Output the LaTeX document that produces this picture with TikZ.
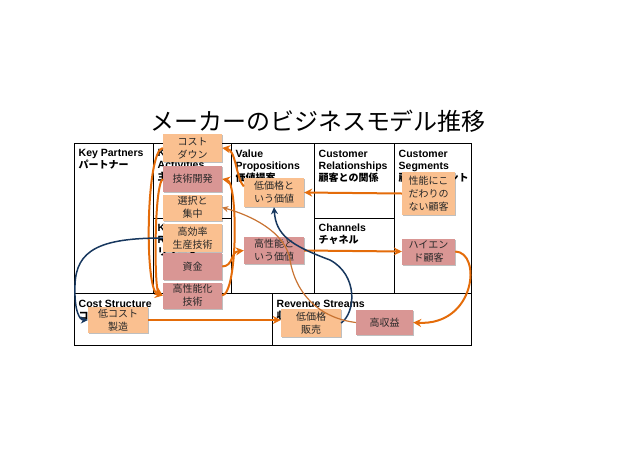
\documentclass[tikz,border=0pt]{standalone}
\usepackage{fontspec}
\setmainfont{Liberation Sans}
\newfontfamily\jp{Noto Sans CJK JP}
\usetikzlibrary{arrows.meta,shadows}
\definecolor{boxor}{RGB}{250,192,144}
\definecolor{boxpk}{RGB}{217,150,148}
\definecolor{lineor}{RGB}{228,108,10}
\definecolor{linebr}{RGB}{200,115,50}
\definecolor{linenv}{RGB}{23,55,94}
\definecolor{txt}{RGB}{40,40,40}
\newcommand{\jh}[1]{{\jp\fontsize{10}{12}\selectfont #1}}

\begin{document}
\begin{tikzpicture}[x=1pt,y=-1pt,
      grid/.style={line width=0.9pt, black},
      hd/.style={anchor=north west, align=left, inner sep=0pt,
                 font=\bfseries\fontsize{10.5}{12}\selectfont},
      box/.style={rectangle, text=txt, align=center, inner sep=1pt,
                  font=\jp\fontsize{10}{13}\selectfont,
                  minimum width=59pt, minimum height=27pt,
                  drop shadow={shadow xshift=1pt, shadow yshift=-1.2pt, fill=black, opacity=.25}},
      boxO/.style={box, fill=boxor},
      boxP/.style={box, fill=boxpk},
      arr/.style={-{Stealth[length=8pt,width=8pt]}, line width=2pt, lineor},
      arrT/.style={-{Stealth[length=6pt,width=6pt]}, line width=1.2pt, linebr},
      arrN/.style={-{Stealth[length=7pt,width=7pt]}, line width=1.5pt, linenv},
    ]
    \useasboundingbox (0,0) rectangle (638,451);
    \node[font=\jp\fontsize{24}{28}\selectfont] (title) at (318,121) {メーカーのビジネスモデル推移};

    % canvas
    \draw[grid] (74,143) rectangle (471,345);
    \draw[grid] (74,293) -- (471,293);
    \foreach \x in {153,231,314,394} \draw[grid] (\x,143) -- (\x,293);
    \draw[grid] (272,293) -- (272,345);
    \draw[grid] (153,218) -- (231,218);
    \draw[grid] (314,218) -- (394,218);

    \node[hd] (kp)  at (78.5,149.5)  {Key Partners\\\jh{パートナー}};
    \node[hd] (ka)  at (157.5,149.5) {Key\\Activities\\\jh{主要活動}};
    \node[hd] (kr)  at (157.5,224.5) {Key\\Resources\\\jh{リソース}};
    \node[hd] (vp)  at (235.5,149.5) {Value\\Propositions\\\jh{価値提案}};
    \node[hd] (cr)  at (318.5,149.5) {Customer\\Relationships\\\jh{顧客との関係}};
    \node[hd] (ch)  at (318.5,223.5) {Channels\\\jh{チャネル}};
    \node[hd] (cs)  at (398.5,149.5) {Customer\\Segments\\\jh{顧客セグメント}};
    \node[hd] (cst) at (78.5,299.5)  {Cost Structure\\\jh{コスト構造}};
    \node[hd] (rs)  at (276.5,299.5) {Revenue Streams\\\jh{収益の流れ}};

    \node[boxO, minimum height=28pt] (cd) at (192.5,148)   {コスト\\ダウン};
    \node[boxP, minimum height=26pt] (td) at (192.5,179)   {技術開発};
    \node[boxO, minimum height=26pt] (sc) at (192.5,207.5) {選択と\\集中};
    \node[boxO, minimum height=28pt] (ep) at (192.5,238)   {高効率\\生産技術};
    \node[boxP] (fd) at (192.5,266.5) {資金};
    \node[boxP, minimum height=26pt] (ht) at (192.5,295.5) {高性能化\\技術};

    \node[boxO, minimum width=60pt, minimum height=29pt] (lv) at (274,192.5) {低価格と\\いう価値};
    \node[boxP, minimum width=60pt] (hv) at (274,250.5) {高性能と\\いう価値};

    \node[boxO, minimum width=53pt, minimum height=43pt] (lc) at (428.5,193.5) {性能にこ\\だわりの\\ない顧客};
    \node[boxP, minimum width=53pt, minimum height=26pt] (hc) at (428.5,251.5) {ハイエン\\ド顧客};

    \node[boxO, minimum width=60pt, minimum height=26pt] (lm) at (118,320)   {低コスト\\製造};
    \node[boxO, minimum width=60pt, minimum height=28pt] (ls) at (311,323)   {低価格\\販売};
    \node[boxP, minimum width=57pt, minimum height=25pt] (hp) at (384.5,322.5) {高収益};

    \draw[arr] (lc.west) -- (lv.east);
    \draw[arr] ([yshift=6pt]lv.west) .. controls (236,178) and (236,150) .. (cd.east);
    \draw[arr] (cd.west) .. controls (146,150) and (144,292) .. (ht.west);
    \draw[arr] (td.west) .. controls (154,185) and (154,290) .. (ht.west);
    \draw[arr] (ht.east) .. controls (238,293) and (238,182) .. (td.east);
    \draw[arr] (fd.east) .. controls (234,266) and (230,252) .. (hv.west);
    \draw[arr] (hv.east) -- (hc.west);
    \draw[arr] (hc.east) .. controls (482,252) and (476,326) .. (hp.east);
    \draw[arr] (lm.east) -- (lm.east -| ls.west);

    \draw[arrN] (ep.west) .. controls (100,238) and (76,250) .. (75,285)
                .. controls (74,312) and (80,320) .. (lm.west);
    \draw[arrN] (ls.east) .. controls (356,312) and (358,275) .. (330,260)
                .. controls (290,245) and (276,235) .. (lv.south);
    \draw[arrT] (hp.west) .. controls (320,318) and (296,295) .. (290,260)
                .. controls (286,232) and (250,215) .. (sc.east);
  \end{tikzpicture}
\end{document}
